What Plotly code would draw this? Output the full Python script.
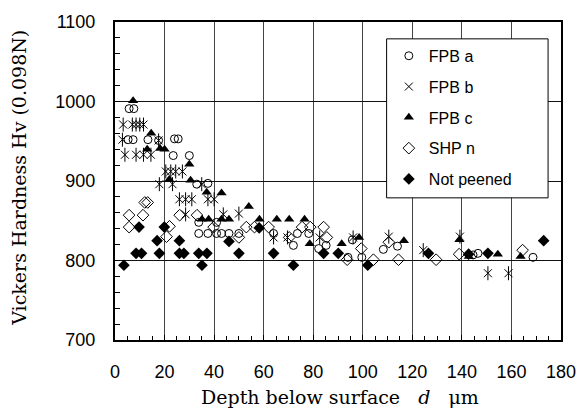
import plotly.graph_objects as go

# FPB a (open circles)
a_d = [5.7, 7.6, 5.3, 7.3, 13.3, 17.6, 24.0, 25.5, 23.5, 30.0, 33.0, 37.5, 33.8, 41.0,
       33.8, 37.5, 41.0, 43.0, 46.0, 50.0, 64.0, 72.0, 73.6, 78.2, 82.2, 85.2, 94.0, 95.8,
       99.6, 108.3, 114.0, 144.5, 146.5, 168.7]
a_hv = [991, 991, 952, 952, 952, 951, 953, 953, 932, 932, 896, 897, 848, 848,
        834, 834, 834, 834, 834, 834, 834, 819, 834, 834, 815, 819, 804, 826,
        804, 814, 818, 807, 809, 804]

# FPB b (asterisks)
b_d = [3.3, 7.0, 8.5, 10.0, 11.5, 3.0, 4.0, 8.5, 11.5, 14.5, 17.6, 17.9, 20.5, 22.5, 24.5,
       27.2, 23.2, 35.0, 26.0, 28.5, 31.0, 37.5, 40.0, 28.5, 43.7, 50.0, 64.0, 69.6, 82.6,
       96.1, 110.5, 124.4, 139.2, 150.5, 158.8]
b_hv = [971, 971, 971, 971, 971, 952, 933, 933, 933, 933, 951, 896, 912, 912, 912,
        912, 896, 896, 877, 877, 877, 877, 877, 858, 858, 859, 829, 829, 829,
        829, 830, 813, 830, 784, 784]

# FPB c (filled triangles)
c_d = [7.3, 14.6, 13.0, 18.2, 20.0, 21.9, 30.0, 30.5, 37.0, 43.0, 35.1, 37.8, 43.0, 46.0,
       54.0, 58.3, 65.3, 70.3, 76.5, 78.6, 91.5, 98.5, 116.6, 139.0, 142.8, 154.5, 163.7]
c_hv = [1001, 960, 940, 941, 940, 902, 921, 901, 886, 885, 852, 852, 852, 852,
        868, 852, 852, 852, 852, 821, 821, 829, 825, 826, 805, 808, 805]

# SHP n (open diamonds)
s_d = [5.7, 5.7, 11.3, 12.0, 13.2, 20.8, 22.0, 26.1, 33.1, 39.8, 50.0, 53.0, 56.3, 62.0,
       70.3, 75.5, 78.8, 84.2, 85.5, 93.7, 99.4, 104.3, 110.5, 114.4, 129.6, 138.9, 164.5]
s_hv = [857, 842, 857, 873, 873, 830, 843, 857, 857, 842, 829, 842, 842, 842,
        829, 842, 842, 842, 829, 801, 815, 801, 823, 801, 801, 808, 813]

# Not peened (filled diamonds)
n_d = [3.6, 8.5, 10.7, 9.7, 17.0, 17.9, 19.9, 26.0, 26.0, 27.8, 33.8, 37.1, 35.1, 46.0,
       50.0, 58.2, 64.0, 72.0, 84.2, 90.1, 102.0, 126.5, 142.7, 150.5, 173.0]
n_hv = [794, 809, 809, 842, 825, 809, 842, 825, 809, 809, 809, 809, 794, 824,
        809, 841, 809, 794, 809, 809, 794, 809, 808, 809, 825]

x_ticks = [0, 20, 40, 60, 80, 100, 120, 140, 160, 180]
y_ticks = [700, 800, 900, 1000, 1100]

fig = go.Figure()
fig.add_trace(go.Scatter(x=a_d, y=a_hv, mode="markers", name="FPB a", legendgroup="a",
                         marker=dict(symbol="circle-open", size=8, color="black", line=dict(width=1))))
fig.add_trace(go.Scatter(x=b_d, y=b_hv, mode="markers", name="FPB b", legendgroup="b",
                         marker=dict(symbol="x-thin-open", size=8, color="black", line=dict(width=1))))
fig.add_trace(go.Scatter(x=b_d, y=b_hv, mode="markers", name="FPB b", legendgroup="b", showlegend=False,
                         marker=dict(symbol="line-ns-open", size=10, color="black", line=dict(width=1))))
fig.add_trace(go.Scatter(x=c_d, y=c_hv, mode="markers", name="FPB c", legendgroup="c",
                         marker=dict(symbol="triangle-up", size=9, color="black", line=dict(width=0))))
fig.add_trace(go.Scatter(x=s_d, y=s_hv, mode="markers", name="SHP n", legendgroup="s",
                         marker=dict(symbol="diamond-open", size=9, color="black", line=dict(width=1))))
fig.add_trace(go.Scatter(x=n_d, y=n_hv, mode="markers", name="Not peened", legendgroup="n",
                         marker=dict(symbol="diamond", size=9, color="black", line=dict(width=0))))

tickfont = dict(family="Liberation Sans, Arial, sans-serif", size=18, color="black")

fig.update_layout(
    width=588, height=417,
    margin=dict(l=115, r=20, t=20, b=77, pad=0),
    paper_bgcolor="white", plot_bgcolor="white",
    showlegend=True,
    legend=dict(x=0.614, xanchor="left", y=0.947, yanchor="top",
                bgcolor="rgba(0,0,0,0)", borderwidth=0, tracegroupgap=7,
                traceorder="grouped",
                font=dict(family="Liberation Sans, Arial, sans-serif", size=16, color="black")),
    xaxis=dict(range=[0, 180], tickvals=x_ticks, showgrid=True, gridcolor="#444", gridwidth=1,
               showline=True, linecolor="black", linewidth=2, mirror=True, zeroline=False,
               ticks="inside", ticklen=5, tickcolor="black", tickfont=tickfont,
               ticklabelstandoff=14,
               minor=dict(dtick=5, ticks="inside", ticklen=4, tickcolor="black", showgrid=False)),
    yaxis=dict(range=[700, 1100], tickvals=y_ticks, showgrid=True, gridcolor="#111", gridwidth=1,
               showline=True, linecolor="black", linewidth=2, mirror=True, zeroline=False,
               ticks="inside", ticklen=5, tickcolor="black", tickfont=tickfont,
               ticklabelstandoff=14,
               minor=dict(dtick=20, ticks="inside", ticklen=5, tickcolor="black", showgrid=False)),
    shapes=[dict(type="rect", xref="paper", yref="paper", x0=0.609, x1=0.971, y0=0.447, y1=0.947,
                 fillcolor="white", line=dict(color="black", width=1), layer="above")],
    annotations=[
        dict(text="Vickers Hardness Hv (0.098N)", xref="paper", yref="paper",
             x=-0.216, y=0.509, xanchor="center", yanchor="middle", textangle=-90, showarrow=False,
             font=dict(family="DejaVu Serif, serif", size=19, color="black")),
        dict(text="Depth below surface\u00a0\u00a0\u00a0<i>d</i>\u00a0\u00a0\u00a0μm", xref="paper", yref="paper",
             x=0.504, y=-0.178, xanchor="center", yanchor="middle", showarrow=False,
             font=dict(family="DejaVu Serif, serif", size=19, color="black")),
    ],
)

fig.write_html("out.html")
